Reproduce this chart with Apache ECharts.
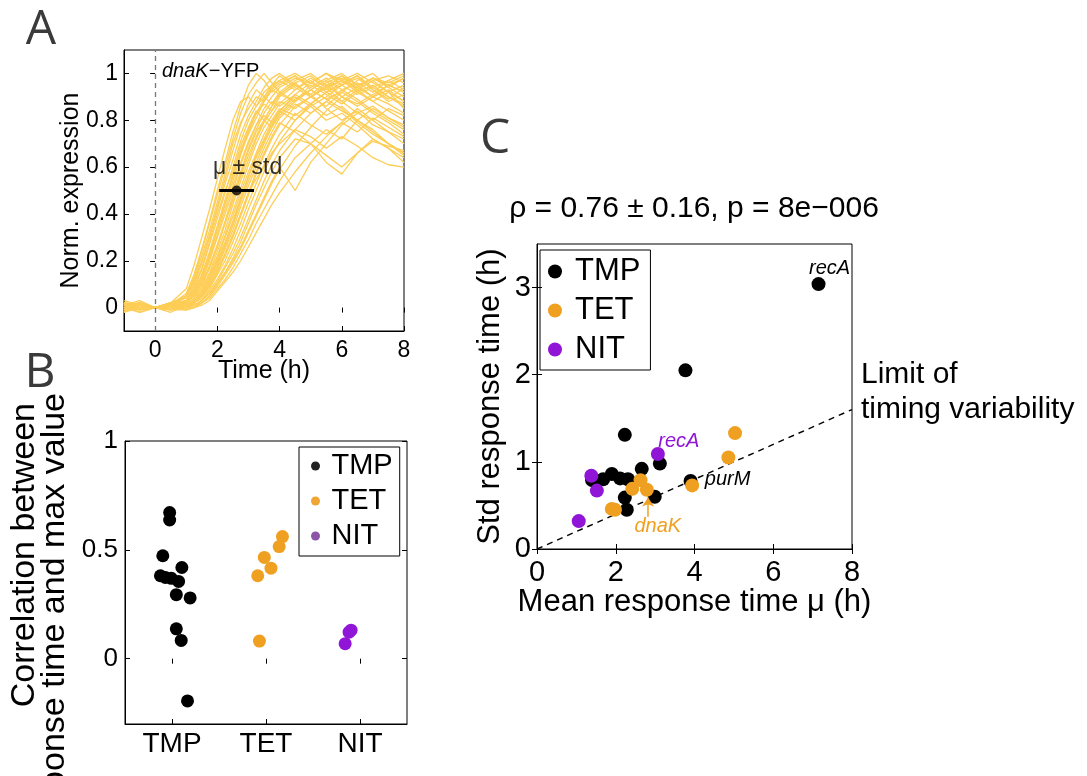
<!DOCTYPE html>
<html><head><meta charset="utf-8">
<script src="https://cdn.jsdelivr.net/npm/echarts@6/dist/echarts.min.js"></script>
<style>html,body{margin:0;padding:0;background:#fff}#c{width:1087px;height:776px}</style>
</head><body><div id="c"></div>
<script>
const FONT = "'Liberation Sans', Arial, sans-serif";

// ---------- Panel A: dnaK-YFP single-cell traces ----------
const timeH = [-1,-0.5,0,0.5,1,1.25,1.5,1.75,2,2.25,2.5,2.75,3,3.25,3.5,3.75,4,4.5,5,5.5,6,6.5,7,7.5,8];
const cell01 = [0.01,0.02,0,0.02,0.08,0.18,0.30,0.42,0.55,0.68,0.80,0.88,0.90,0.86,0.92,0.95,0.97,0.93,0.98,0.94,0.99,0.95,0.90,0.93,0.88];
const cell02 = [0.00,0.01,0,0.01,0.06,0.14,0.25,0.37,0.50,0.62,0.75,0.86,0.95,1.00,0.97,0.92,0.95,0.99,0.93,0.97,0.90,0.94,0.98,0.95,0.92];
const cell03 = [0.02,-0.01,0,0.00,0.05,0.12,0.22,0.33,0.45,0.57,0.70,0.79,0.85,0.90,0.88,0.93,0.91,0.96,0.90,0.86,0.92,0.97,1.00,0.94,0.98];
const cell04 = [-0.01,0.02,0,0.02,0.04,0.10,0.19,0.30,0.42,0.53,0.63,0.74,0.82,0.88,0.94,0.98,1.00,0.95,0.91,0.96,0.99,0.93,0.88,0.84,0.80];
const cell05 = [0.01,0.00,0,-0.01,0.03,0.08,0.16,0.27,0.38,0.49,0.60,0.71,0.80,0.86,0.90,0.87,0.92,0.97,1.00,0.95,0.90,0.86,0.90,0.87,0.83];
const cell06 = [0.03,0.01,0,0.01,0.03,0.07,0.14,0.24,0.35,0.46,0.57,0.66,0.74,0.81,0.88,0.93,0.96,0.99,0.94,0.98,0.93,0.96,0.92,0.97,0.93];
const cell07 = [-0.02,0.01,0,0.00,0.02,0.06,0.13,0.22,0.33,0.44,0.54,0.65,0.75,0.83,0.87,0.84,0.90,0.95,0.91,0.85,0.80,0.84,0.78,0.75,0.72];
const cell08 = [0.00,0.02,0,0.01,0.02,0.05,0.11,0.20,0.30,0.40,0.50,0.61,0.70,0.78,0.85,0.90,0.94,0.98,0.96,1.00,0.97,0.93,0.97,0.99,0.96];
const cell09 = [0.02,-0.01,0,0.02,0.02,0.05,0.10,0.18,0.27,0.37,0.48,0.58,0.68,0.76,0.83,0.88,0.86,0.91,0.87,0.82,0.86,0.80,0.76,0.70,0.66];
const cell10 = [-0.01,0.00,0,0.00,0.01,0.04,0.09,0.17,0.26,0.36,0.46,0.56,0.65,0.73,0.80,0.86,0.91,0.96,0.99,0.94,0.97,1.00,0.96,0.92,0.95];
const cell11 = [0.01,0.03,0,-0.02,0.01,0.04,0.08,0.15,0.24,0.33,0.44,0.54,0.63,0.72,0.79,0.84,0.88,0.85,0.90,0.94,0.88,0.83,0.86,0.81,0.77];
const cell12 = [0.00,0.01,0,0.01,0.01,0.03,0.07,0.14,0.22,0.31,0.41,0.51,0.61,0.70,0.77,0.82,0.87,0.93,0.97,0.92,0.95,0.91,0.94,0.90,0.86];
const cell13 = [0.02,0.00,0,0.01,0.00,0.03,0.07,0.13,0.21,0.30,0.39,0.49,0.58,0.66,0.74,0.80,0.85,0.82,0.87,0.92,0.96,0.99,0.93,0.88,0.91];
const cell14 = [-0.02,0.02,0,0.00,0.01,0.02,0.06,0.12,0.20,0.28,0.37,0.47,0.56,0.65,0.72,0.79,0.84,0.90,0.86,0.80,0.83,0.78,0.72,0.68,0.62];
const cell15 = [0.01,0.01,0,0.02,0.01,0.02,0.05,0.11,0.18,0.26,0.35,0.45,0.54,0.62,0.70,0.77,0.83,0.89,0.93,0.97,1.00,0.95,0.98,0.94,0.90];
const cell16 = [0.00,-0.01,0,0.00,0.00,0.02,0.05,0.10,0.17,0.25,0.33,0.43,0.52,0.60,0.68,0.75,0.81,0.87,0.83,0.88,0.93,0.89,0.84,0.80,0.76];
const cell17 = [0.02,0.01,0,0.01,0.00,0.02,0.04,0.09,0.15,0.22,0.30,0.39,0.48,0.57,0.65,0.72,0.78,0.86,0.90,0.95,0.98,0.94,0.90,0.95,0.98];
const cell18 = [-0.01,0.00,0,-0.01,0.00,0.01,0.03,0.08,0.14,0.20,0.28,0.36,0.45,0.53,0.61,0.68,0.74,0.83,0.78,0.74,0.79,0.85,0.80,0.75,0.70];
const cell19 = [0.01,0.02,0,0.00,-0.01,0.01,0.03,0.07,0.12,0.18,0.25,0.33,0.42,0.50,0.58,0.65,0.71,0.80,0.87,0.92,0.88,0.93,0.97,0.92,0.88];
const cell20 = [0.00,0.01,0,0.01,0.00,0.01,0.03,0.06,0.11,0.17,0.23,0.30,0.38,0.46,0.54,0.61,0.67,0.76,0.83,0.88,0.84,0.80,0.85,0.81,0.78];
const cell21 = [0.02,-0.01,0,0.02,0.01,0.00,0.02,0.05,0.10,0.15,0.21,0.28,0.36,0.44,0.51,0.58,0.64,0.72,0.70,0.62,0.57,0.66,0.72,0.68,0.64];
const cell22 = [-0.01,0.01,0,0.00,0.00,0.01,0.02,0.05,0.09,0.14,0.19,0.25,0.32,0.39,0.46,0.53,0.59,0.69,0.77,0.84,0.90,0.87,0.91,0.95,0.92];
const cell23 = [0.01,0.00,0,-0.01,-0.01,0.00,0.02,0.04,0.08,0.12,0.17,0.23,0.29,0.36,0.42,0.48,0.54,0.64,0.70,0.76,0.72,0.80,0.75,0.70,0.66];
const cell24 = [0.00,0.02,0,0.01,-0.01,0.00,0.01,0.03,0.07,0.11,0.15,0.20,0.26,0.32,0.38,0.44,0.49,0.58,0.66,0.73,0.79,0.75,0.81,0.77,0.73];
const cell25 = [0.01,0.00,0,0.02,0.05,0.13,0.24,0.36,0.48,0.60,0.72,0.83,0.91,0.96,1.00,0.96,0.92,0.88,0.93,0.89,0.85,0.79,0.74,0.70,0.65];
const cell26 = [-0.02,0.00,0,0.01,0.02,0.06,0.12,0.21,0.31,0.42,0.52,0.62,0.71,0.78,0.82,0.79,0.84,0.80,0.86,0.90,0.95,0.99,0.94,0.97,1.00];
const cell27 = [0.02,0.01,0,0.00,0.03,0.09,0.17,0.28,0.40,0.50,0.58,0.69,0.77,0.84,0.80,0.86,0.91,0.88,0.95,0.91,0.87,0.92,0.88,0.92,0.85];
const cell28 = [0.00,-0.02,0,0.01,0.00,0.02,0.05,0.09,0.15,0.23,0.31,0.40,0.49,0.55,0.60,0.66,0.70,0.76,0.73,0.68,0.73,0.69,0.64,0.61,0.60];
const cell29 = [0.01,-0.02,0,0.01,0.05,0.11,0.20,0.31,0.43,0.55,0.67,0.78,0.87,0.93,0.90,0.95,0.99,0.94,0.90,0.94,0.97,0.92,0.95,0.90,0.87];
const cell30 = [-0.01,0.02,0,0.01,0.02,0.05,0.10,0.17,0.26,0.36,0.46,0.57,0.67,0.75,0.80,0.77,0.82,0.88,0.93,0.89,0.92,0.88,0.83,0.79,0.74];
const cell31 = [0.02,0.00,0,0.00,0.01,0.02,0.05,0.10,0.16,0.23,0.31,0.40,0.49,0.58,0.66,0.73,0.79,0.75,0.70,0.65,0.60,0.66,0.71,0.69,0.67];
const cell32 = [0.00,0.01,0,0.02,0.03,0.07,0.14,0.23,0.34,0.45,0.56,0.67,0.76,0.83,0.89,0.94,0.97,1.00,0.96,0.93,0.97,0.94,0.98,0.96,0.99];
const cell33 = [0.01,-0.01,0,0.00,0.00,0.01,0.03,0.06,0.10,0.15,0.20,0.26,0.33,0.40,0.47,0.54,0.60,0.50,0.62,0.70,0.78,0.83,0.80,0.85,0.82];
const cell34 = [0.00,0.02,0,0.01,0.00,0.03,0.06,0.12,0.19,0.27,0.36,0.46,0.56,0.64,0.71,0.78,0.84,0.91,0.96,1.00,0.95,0.98,0.93,0.89,0.94];
const cells = [cell01,cell02,cell03,cell04,cell05,cell06,cell07,cell08,cell09,cell10,cell11,cell12,cell13,cell14,cell15,cell16,cell17,
               cell18,cell19,cell20,cell21,cell22,cell23,cell24,cell25,cell26,cell27,cell28,cell29,cell30,cell31,cell32,cell33,cell34];
const aTicksX = [0,2,4,6,8];
const aTicksY = [0,0.2,0.4,0.6,0.8,1];
const muTime = 2.62, stdTime = 0.56, muLevel = 0.5;

// ---------- Panel B: correlation response time vs max value ----------
const bCategories = ['TMP','TET','NIT'];
const bTmpCorr   = [0.671,0.637,0.473,0.419,0.381,0.373,0.369,0.355,0.294,0.279,0.137,0.084,-0.194];
const bTmpJitter = [-0.025,-0.025,-0.098,0.105,-0.123,-0.07,-0.007,0.07,0.046,0.193,0.046,0.098,0.165];
const bTetCorr   = [0.381,0.465,0.416,0.515,0.561,0.081];
const bTetJitter = [-0.088,-0.018,0.053,0.14,0.175,-0.07];
const bNitCorr   = [0.069,0.122,0.131];
const bNitJitter = [-0.158,-0.116,-0.095];
const bTicksY = [0,0.5,1];

// ---------- Panel C: mean vs std of response time ----------
const cTmp = [[7.15,3.04],[3.77,2.05],[2.23,1.31],[3.12,0.98],[2.66,0.92],[1.90,0.86],[1.68,0.80],[2.11,0.81],
              [2.31,0.80],[1.40,0.79],[2.23,0.59],[2.99,0.60],[2.28,0.45],[3.90,0.78]];
const cTet = [[5.03,1.33],[4.86,1.05],[3.94,0.73],[2.63,0.79],[2.42,0.69],[2.79,0.68],[1.90,0.46],[1.98,0.45]];
const cNit = [[3.07,1.09],[1.38,0.84],[1.52,0.67],[1.06,0.32]];
const cTmpLabels = {0:'recA', 13:'purM'};
const cTetLabels = {5:'dnaK'};
const cNitLabels = {0:'recA'};
const cLimit = [[0,0],[8,1.6]];
const dnakArrow = [[2.82,0.37],[2.82,0.59]];
const cTicksX = [0,2,4,6,8];
const cTicksY = [0,1,2,3];
const rhoText = 'ρ = 0.76 ± 0.16, p = 8e−006';

// ---------- colours ----------
const C_TMP = '#000000', C_TET = '#efa021', C_NIT = '#9015d6', C_YFP = '#fdcd56';

const chart = echarts.init(document.getElementById('c'), null, {renderer:'canvas'});

function gridBox(l,t,w,h){
  return {left:l, top:t, width:w, height:h, show:true, borderColor:'#000', borderWidth:1,
          backgroundColor:'transparent', containLabel:false, outerBoundsMode:'none'};
}
function mainAxis(o){
  return Object.assign({
    type:'value', splitLine:{show:false}, nameMoveOverlap:false,
    axisLine:{show:true, onZero:false, lineStyle:{color:'#000', width:1}},
  }, o);
}
function mirrorAxis(grid, pos, min, max, ticks){
  return {type:'value', gridIndex:grid, position:pos, min:min, max:max, splitLine:{show:false},
    axisLine:{show:false}, axisLabel:{show:false},
    axisTick:{show:true, inside:true, length:5, customValues:ticks, lineStyle:{color:'#000'}}};
}
const tickStyle = t => ({show:true, inside:true, length:5, customValues:t, lineStyle:{color:'#000'}});
const labStyle = (t, fs, m, fmt) => {
  const o = {customValues:t, fontSize:fs, color:'#000', fontFamily:FONT, margin:m};
  if (fmt) o.formatter = fmt;
  return o;
};

const xAxis = [
  mainAxis({gridIndex:0, position:'bottom', min:-1, max:8, axisTick:tickStyle(aTicksX), axisLabel:labStyle(aTicksX,23,8),
    name:'Time (h)', nameLocation:'middle', nameGap:28, nameTextStyle:{fontSize:25, color:'#000', fontFamily:FONT}}),
  mirrorAxis(0,'top',-1,8,aTicksX),
  mainAxis({gridIndex:1, position:'bottom', min:0.5, max:3.5, axisTick:tickStyle([1,2,3]),
    axisLabel:labStyle([1,2,3],28,6, v => bCategories[Math.round(v)-1])}),
  mirrorAxis(1,'top',0.5,3.5,[1,2,3]),
  mainAxis({gridIndex:2, position:'bottom', min:0, max:8, axisTick:tickStyle(cTicksX), axisLabel:labStyle(cTicksX,29,9),
    name:'Mean response time μ (h)', nameLocation:'middle', nameGap:38, nameTextStyle:{fontSize:31, color:'#000', fontFamily:FONT}}),
  mirrorAxis(2,'top',0,8,cTicksX)
];
const yAxis = [
  mainAxis({gridIndex:0, position:'left', min:-0.1, max:1.1, axisTick:tickStyle(aTicksY), axisLabel:labStyle(aTicksY,23,6),
    name:'Norm. expression', nameLocation:'middle', nameGap:40, nameRotate:90, nameTextStyle:{fontSize:25, color:'#000', fontFamily:FONT}}),
  mirrorAxis(0,'right',-0.1,1.1,aTicksY),
  mainAxis({gridIndex:1, position:'left', min:-0.3, max:1, axisTick:tickStyle(bTicksY), axisLabel:labStyle(bTicksY,26,7)}),
  mirrorAxis(1,'right',-0.3,1,bTicksY),
  mainAxis({gridIndex:2, position:'left', min:0, max:3.5, axisTick:tickStyle(cTicksY), axisLabel:labStyle(cTicksY,29,6),
    name:'Std response time (h)', nameLocation:'middle', nameGap:31, nameRotate:90, nameTextStyle:{fontSize:31, color:'#000', fontFamily:FONT}}),
  mirrorAxis(2,'right',0,3.5,cTicksY)
];

const series = [];
// Panel A traces
cells.forEach((cell, k) => {
  const s = {name:'cell'+(k+1), type:'line', xAxisIndex:0, yAxisIndex:0, symbol:'none', silent:true,
    lineStyle:{color:C_YFP, width:1.3}, data: timeH.map((t,i)=>[t, cell[i]]), z:2};
  if (k === 0) {
    s.markLine = {silent:true, symbol:'none', label:{show:false},
      lineStyle:{color:'#777', type:[5,4], width:1.3}, data:[{xAxis:0}]};
  }
  series.push(s);
});
series.push({name:'muStd', type:'line', xAxisIndex:0, yAxisIndex:0, symbol:'none', silent:true,
  lineStyle:{color:'#000', width:3}, data:[[muTime-stdTime, muLevel],[muTime+stdTime, muLevel]], z:5});
series.push({name:'mu', type:'scatter', xAxisIndex:0, yAxisIndex:0, symbolSize:10, silent:true,
  itemStyle:{color:'#000'}, z:6,
  data:[{value:[muTime, muLevel], label:{show:true, position:'inside', offset:[11,-23], formatter:'μ ± std',
    fontSize:23, color:'#000', fontFamily:FONT}}]});

// Panel B
const bSeries = [['TMP',bTmpCorr,bTmpJitter,C_TMP,1],['TET',bTetCorr,bTetJitter,C_TET,2],['NIT',bNitCorr,bNitJitter,C_NIT,3]];
bSeries.forEach(([name, vals, jit, col, cx]) => {
  series.push({name:name, type:'scatter', xAxisIndex:2, yAxisIndex:2, symbolSize:13, silent:true,
    itemStyle:{color:col, opacity:1}, data: vals.map((v,i)=>[cx + jit[i], v]), z:3});
});

// Panel C
series.push({name:'limit', type:'line', xAxisIndex:4, yAxisIndex:4, symbol:'none', silent:true,
  lineStyle:{color:'#000', type:[6,5], width:1.4}, data:cLimit, z:2});
const labelOffsets = {'TMP:recA':[11,-16], 'TMP:purM':[37,-2], 'TET:dnaK':[11,37], 'NIT:recA':[21,-13]};
function cData(points, labels, name, col){
  return points.map((p,i) => {
    if (labels[i] === undefined) return p;
    return {value:p, label:{show:true, position:'inside', formatter:labels[i], offset:labelOffsets[name+':'+labels[i]],
      fontSize:20, fontStyle:'italic', color:col, fontFamily:FONT}};
  });
}
const cSeries = [['TMP',cTmp,cTmpLabels,C_TMP],['TET',cTet,cTetLabels,C_TET],['NIT',cNit,cNitLabels,C_NIT]];
cSeries.forEach(([name, pts, labs, col]) => {
  const s = {name:name, type:'scatter', xAxisIndex:4, yAxisIndex:4, symbolSize:14, silent:true,
    itemStyle:{color:col, opacity:1}, data:cData(pts, labs, name, col), z:3};
  if (name === 'TET') {
    s.markLine = {silent:true, symbol:['none','arrow'], symbolSize:9, label:{show:false},
      lineStyle:{color:C_TET, type:'solid', width:1.5},
      data:[[{coord:dnakArrow[0]},{coord:dnakArrow[1]}]]};
  }
  series.push(s);
});

const legendText = fs => ({fontSize:fs, lineHeight:30, color:'#000', fontFamily:FONT});

chart.setOption({
  animation:false,
  backgroundColor:'#fff',
  textStyle:{fontFamily:FONT},
  grid:[gridBox(124,50,280,281), gridBox(125,441,282,283), gridBox(537,244,315,305)],
  xAxis: xAxis,
  yAxis: yAxis,
  legend:[
    {orient:'vertical', left:299, top:447, padding:[4,7,5,12], itemGap:5, itemWidth:22, itemHeight:9,
     icon:'circle', borderColor:'#000', borderWidth:1, selectedMode:false, textStyle:legendText(29),
     data:[{name:'TMP', itemStyle:{color:'#222'}},{name:'TET', itemStyle:{color:'#f0a535'}},{name:'NIT', itemStyle:{color:'#8c56a8'}}]},
    {orient:'vertical', left:540, top:250, padding:[6,10,5,8], itemGap:8, itemWidth:30, itemHeight:14,
     icon:'circle', borderColor:'#000', borderWidth:1, selectedMode:false, textStyle:legendText(31),
     data:[{name:'TMP', itemStyle:{color:C_TMP}},{name:'TET', itemStyle:{color:C_TET}},{name:'NIT', itemStyle:{color:C_NIT}}]}
  ],
  graphic:[
    {type:'text', x:41, y:30, style:{text:'A', fontSize:48, fontFamily:"'Open Sans', sans-serif", fill:'#3a3a3a', align:'center', verticalAlign:'middle'}},
    {type:'text', x:40, y:373, style:{text:'B', fontSize:48, fontFamily:"'Open Sans', sans-serif", fill:'#3a3a3a', align:'center', verticalAlign:'middle'}},
    {type:'text', x:495, y:139, style:{text:'C', fontSize:48, fontFamily:"'Open Sans', sans-serif", fill:'#3a3a3a', align:'center', verticalAlign:'middle'}},
    {type:'text', x:162, y:71, style:{text:'{i|dnaK}{n|−YFP}', verticalAlign:'middle',
      rich:{i:{fontStyle:'italic', fontSize:20, fontFamily:FONT, fill:'#000'}, n:{fontSize:20, fontFamily:FONT, fill:'#000'}}}},
    {type:'text', x:694, y:209, style:{text:rhoText, fontSize:30, fontFamily:FONT, fill:'#000', align:'center', verticalAlign:'middle'}},
    {type:'text', x:861, y:357, style:{text:'Limit of\ntiming variability', fontSize:30, lineHeight:35, fontFamily:FONT, fill:'#000', align:'left', verticalAlign:'top'}},
    {type:'text', x:25, y:403, rotation:Math.PI/2, style:{text:'Correlation between', fontSize:34, fontFamily:FONT, fill:'#000', align:'right', verticalAlign:'middle'}},
    {type:'text', x:55, y:393, rotation:Math.PI/2, style:{text:'response time and max value', fontSize:34, fontFamily:FONT, fill:'#000', align:'right', verticalAlign:'middle'}}
  ],
  series: series
});
</script></body></html>
